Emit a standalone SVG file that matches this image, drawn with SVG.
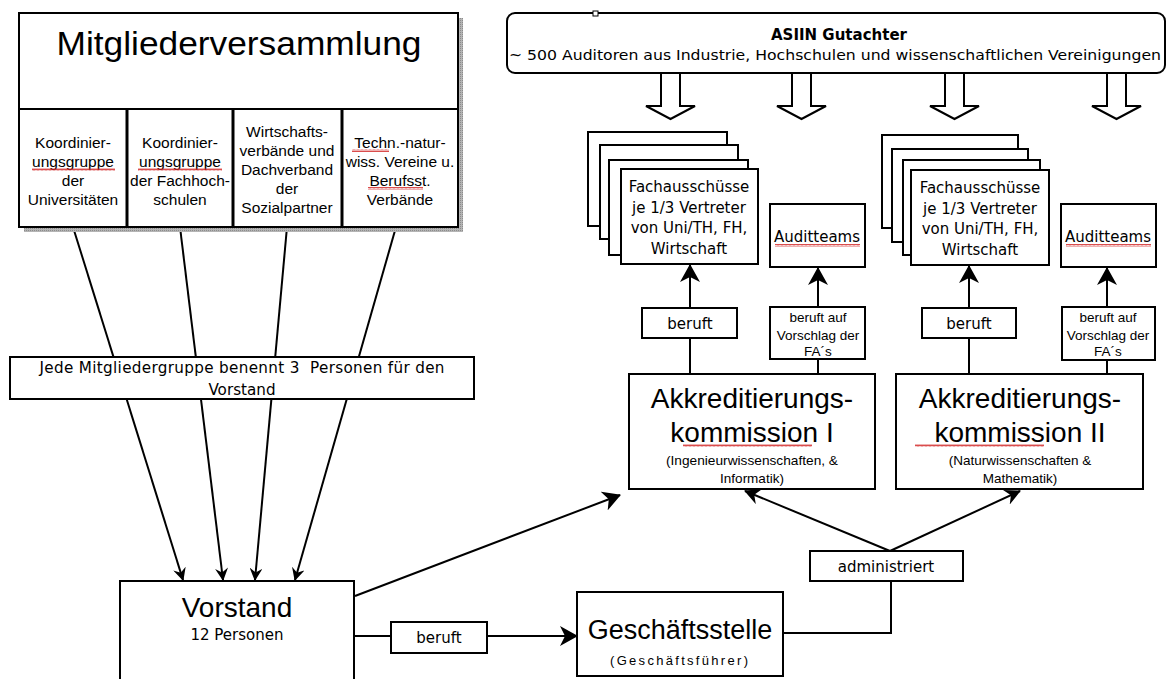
<svg xmlns="http://www.w3.org/2000/svg" width="1168" height="679" viewBox="0 0 1168 679">
<style>
  .box { fill: #fff; stroke: #000; stroke-width: 2; }
  .ln { fill: none; stroke: #000; stroke-width: 2; }
  .ds { font-family: "DejaVu Sans", Verdana, sans-serif; fill: #000; }
  .ls { font-family: "Liberation Sans", Arial, sans-serif; fill: #000; }
  .c { text-anchor: middle; }
  .wave { fill: url(#wave); }
</style>
<defs>
  <pattern id="wave" width="4" height="3" patternUnits="userSpaceOnUse">
    <path d="M0,2.5 L1,0.5 L2,2.5 L3,0.5 L4,2.5" stroke="#d02020" stroke-width="0.8" fill="none"/>
  </pattern>
  <pattern id="shade" width="2" height="2" patternUnits="userSpaceOnUse">
    <rect width="2" height="2" fill="#b4b4b4"/>
    <rect width="1" height="1" fill="#8c8c8c"/>
  </pattern>
  <marker id="arrS" viewBox="0 0 12 12" markerWidth="13" markerHeight="13" refX="11" refY="6" orient="auto" markerUnits="userSpaceOnUse">
    <path d="M0,0 L12,6 L0,12 L4,6 z" fill="#000"/>
  </marker>
  <marker id="arrL" viewBox="0 0 18 20" markerWidth="18" markerHeight="20" refX="17" refY="10" orient="auto" markerUnits="userSpaceOnUse">
    <path d="M0,0 L18,10 L0,20 L5,10 z" fill="#000"/>
  </marker>
  <marker id="arrM" viewBox="0 0 16 16" markerWidth="16" markerHeight="16" refX="15" refY="8" orient="auto" markerUnits="userSpaceOnUse">
    <path d="M0,0 L16,8 L0,16 L5,8 z" fill="#000"/>
  </marker>
</defs>

<rect width="1168" height="679" fill="#fff"/>

<g id="connectors">
  <line class="ln" x1="73" y1="227" x2="183" y2="580" marker-end="url(#arrS)"/>
  <line class="ln" x1="180" y1="227" x2="223" y2="580" marker-end="url(#arrS)"/>
  <line class="ln" x1="287" y1="227" x2="255" y2="580" marker-end="url(#arrS)"/>
  <line class="ln" x1="396" y1="227" x2="295" y2="580" marker-end="url(#arrS)"/>
  <line class="ln" x1="355" y1="596" x2="620" y2="495" marker-end="url(#arrL)"/>
  <line class="ln" x1="354" y1="636" x2="391" y2="636"/>
  <line class="ln" x1="487" y1="636" x2="577" y2="636" marker-end="url(#arrL)"/>
  <polyline class="ln" points="783,633 891,633 891,581"/>
  <line class="ln" x1="890" y1="551" x2="745" y2="491" marker-end="url(#arrM)"/>
  <line class="ln" x1="890" y1="551" x2="1020" y2="491" marker-end="url(#arrM)"/>
  <line class="ln" x1="690" y1="338" x2="690" y2="374"/>
  <line class="ln" x1="818" y1="359" x2="818" y2="374"/>
  <line class="ln" x1="969" y1="338" x2="969" y2="374"/>
  <line class="ln" x1="1107" y1="360" x2="1107" y2="374"/>
  <line class="ln" x1="690" y1="308" x2="690" y2="265" marker-end="url(#arrL)"/>
  <line class="ln" x1="818" y1="307" x2="818" y2="268" marker-end="url(#arrL)"/>
  <line class="ln" x1="969" y1="308" x2="969" y2="266" marker-end="url(#arrL)"/>
  <line class="ln" x1="1107" y1="307" x2="1107" y2="268" marker-end="url(#arrL)"/>
  <path class="box" d="M661,73 L680,73 L680,106 L695,106 L670.5,119 L646,106 L661,106 Z"/>
  <path class="box" d="M792,73 L811,73 L811,106 L826,106 L801.5,119 L777,106 L792,106 Z"/>
  <path class="box" d="M945,73 L964,73 L964,106 L979,106 L954.5,119 L930,106 L945,106 Z"/>
  <path class="box" d="M1107,73 L1126,73 L1126,106 L1141,106 L1116.5,119 L1092,106 L1107,106 Z"/>
</g>

<g id="mitgliederversammlung">
  <rect x="24" y="18" width="439" height="214" fill="url(#shade)"/>
  <rect class="box" x="19" y="13" width="439" height="214"/>
  <line class="ln" x1="19" y1="109" x2="458" y2="109"/>
  <line x1="127" y1="109" x2="127" y2="227" stroke="#000" stroke-width="3"/>
  <line x1="233" y1="109" x2="233" y2="227" stroke="#000" stroke-width="3"/>
  <line x1="342" y1="109" x2="342" y2="227" stroke="#000" stroke-width="3"/>
  <text class="ls c" x="239" y="55" font-size="33" textLength="365" lengthAdjust="spacingAndGlyphs">Mitgliederversammlung</text>
</g>

<g id="gruppe-universitaeten">
  <text class="ls c" font-size="15.5"><tspan x="73" y="148">Koordinier-</tspan><tspan x="73" y="167">ungsgruppe</tspan><tspan x="73" y="186">der</tspan><tspan x="73" y="205">Universitäten</tspan></text>
  <rect class="wave" x="32" y="168" width="83" height="3"/>
</g>
<g id="gruppe-fachhochschulen">
  <text class="ls c" font-size="15.5"><tspan x="180" y="148">Koordinier-</tspan><tspan x="180" y="167">ungsgruppe</tspan><tspan x="180" y="186">der Fachhoch-</tspan><tspan x="180" y="205">schulen</tspan></text>
  <rect class="wave" x="138" y="168" width="84" height="3"/>
</g>
<g id="gruppe-wirtschaft">
  <text class="ls c" font-size="15.5"><tspan x="287" y="137">Wirtschafts-</tspan><tspan x="287" y="156">verbände und</tspan><tspan x="287" y="175">Dachverband</tspan><tspan x="287" y="194">der</tspan><tspan x="287" y="213">Sozialpartner</tspan></text>
</g>
<g id="gruppe-vereine">
  <text class="ls c" font-size="15.5"><tspan x="400" y="148">Techn.-natur-</tspan><tspan x="400" y="167">wiss. Vereine u.</tspan><tspan x="400" y="186">Berufsst.</tspan><tspan x="400" y="205">Verbände</tspan></text>
  <rect class="wave" x="352" y="149" width="37" height="3"/>
  <rect class="wave" x="368" y="187" width="55" height="3"/>
</g>

<g id="benennung">
  <rect class="box" x="10" y="357" width="464" height="42"/>
  <text class="ds c" font-size="15.2" x="242" y="373" xml:space="preserve" textLength="405" lengthAdjust="spacing">Jede Mitgliedergruppe benennt 3  Personen für den</text>
  <text class="ds c" font-size="15.2" x="242" y="395">Vorstand</text>
</g>

<g id="vorstand">
  <rect class="box" x="120" y="581" width="234" height="110"/>
  <text class="ls c" x="237" y="617" font-size="28">Vorstand</text>
  <text class="ds c" x="237" y="640" font-size="15">12 Personen</text>
</g>

<g id="beruft-gs">
  <rect class="box" x="391" y="622" width="96" height="31"/>
  <text class="ds c" x="439" y="643" font-size="15">beruft</text>
</g>

<g id="geschaeftsstelle">
  <rect class="box" x="577" y="592" width="206" height="84"/>
  <text class="ls c" x="680" y="639" font-size="27">Geschäftsstelle</text>
  <text class="ls c" x="679" y="665" font-size="13" textLength="138" lengthAdjust="spacing">(Geschäftsführer)</text>
</g>

<g id="administriert">
  <rect class="box" x="810" y="551" width="153" height="30"/>
  <text class="ds c" x="886" y="572" font-size="15">administriert</text>
</g>

<g id="asiin">
  <rect class="box" x="507" y="13" width="658" height="60" rx="8"/>
  <rect x="593" y="11" width="5" height="5" fill="#fff" stroke="#000" stroke-width="1"/>
  <text class="ds c" x="839" y="40" font-size="15" font-weight="bold">ASIIN Gutachter</text>
  <text class="ds c" x="835" y="60" font-size="14" textLength="652" lengthAdjust="spacingAndGlyphs">~ 500 Auditoren aus Industrie, Hochschulen und wissenschaftlichen Vereinigungen</text>
</g>

<g id="fachausschuesse-1">
  <rect class="box" x="588" y="132" width="139" height="94"/>
  <rect class="box" x="600" y="145" width="138" height="94"/>
  <rect class="box" x="609" y="160" width="139" height="95"/>
  <rect class="box" x="621" y="169" width="137" height="95"/>
  <text class="ds c" font-size="15"><tspan x="689" y="192">Fachausschüsse</tspan><tspan x="689" y="213">je 1/3 Vertreter</tspan><tspan x="689" y="233">von Uni/TH, FH,</tspan><tspan x="689" y="254">Wirtschaft</tspan></text>
</g>

<g id="auditteams-1">
  <rect class="box" x="770" y="204" width="95" height="63"/>
  <text class="ds c" x="817" y="242" font-size="15">Auditteams</text>
  <rect class="wave" x="775" y="244" width="85" height="3"/>
</g>

<g id="beruft-1">
  <rect class="box" x="642" y="308" width="95" height="30"/>
  <text class="ds c" x="690" y="329" font-size="15">beruft</text>
</g>

<g id="vorschlag-1">
  <rect class="box" x="770" y="307" width="95" height="52"/>
  <text class="ls c" font-size="13.5"><tspan x="818" y="322">beruft auf</tspan><tspan x="818" y="340">Vorschlag der</tspan><tspan x="818" y="356">FA´s</tspan></text>
</g>

<g id="fachausschuesse-2">
  <rect class="box" x="882" y="135" width="136" height="93"/>
  <rect class="box" x="892" y="149" width="136" height="93"/>
  <rect class="box" x="903" y="160" width="137" height="95"/>
  <rect class="box" x="911" y="170" width="138" height="95"/>
  <text class="ds c" font-size="15"><tspan x="980" y="193">Fachausschüsse</tspan><tspan x="980" y="214">je 1/3 Vertreter</tspan><tspan x="980" y="234">von Uni/TH, FH,</tspan><tspan x="980" y="255">Wirtschaft</tspan></text>
</g>

<g id="auditteams-2">
  <rect class="box" x="1061" y="204" width="95" height="63"/>
  <text class="ds c" x="1108" y="242" font-size="15">Auditteams</text>
  <rect class="wave" x="1066" y="244" width="85" height="3"/>
</g>

<g id="beruft-2">
  <rect class="box" x="922" y="308" width="94" height="30"/>
  <text class="ds c" x="969" y="329" font-size="15">beruft</text>
</g>

<g id="vorschlag-2">
  <rect class="box" x="1062" y="307" width="93" height="53"/>
  <text class="ls c" font-size="13.5"><tspan x="1108" y="322">beruft auf</tspan><tspan x="1108" y="340">Vorschlag der</tspan><tspan x="1108" y="356">FA´s</tspan></text>
</g>

<g id="akkreditierungskommission-1">
  <rect class="box" x="629" y="374" width="246" height="115"/>
  <text class="ls c" x="752" y="408" font-size="28">Akkreditierungs-</text>
  <text class="ls c" x="752" y="442" font-size="28">kommission I</text>
  <rect class="wave" x="683" y="444" width="129" height="3"/>
  <text class="ls c" x="752" y="465" font-size="13.5" textLength="172" lengthAdjust="spacingAndGlyphs">(Ingenieurwissenschaften, &amp;</text>
  <text class="ls c" x="752" y="483" font-size="13.5">Informatik)</text>
</g>

<g id="akkreditierungskommission-2">
  <rect class="box" x="896" y="374" width="247" height="115"/>
  <text class="ls c" x="1020" y="408" font-size="28">Akkreditierungs-</text>
  <text class="ls c" x="1020" y="442" font-size="28">kommission II</text>
  <rect class="wave" x="915" y="444" width="129" height="3"/>
  <text class="ls c" x="1020" y="465" font-size="13.5">(Naturwissenschaften &amp;</text>
  <text class="ls c" x="1020" y="483" font-size="13.5">Mathematik)</text>
</g>
</svg>
